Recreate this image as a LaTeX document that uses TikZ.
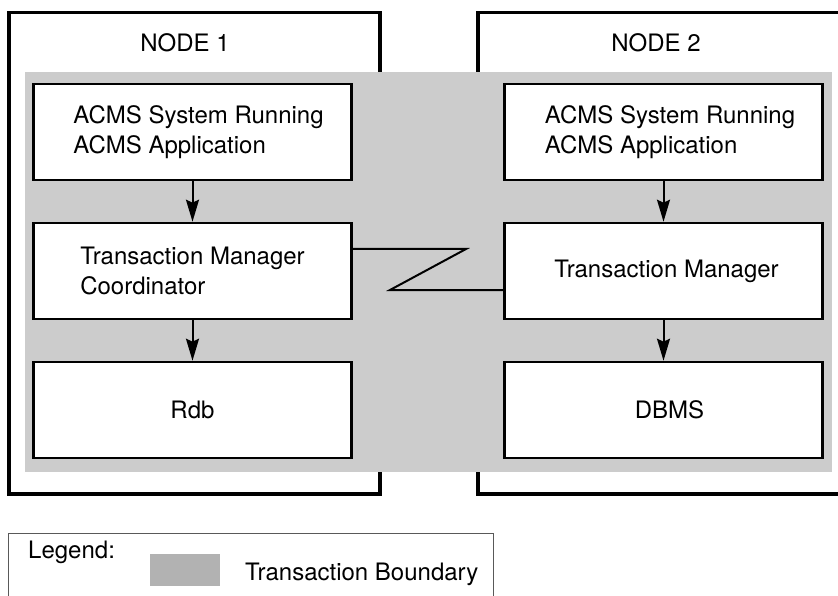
\documentclass[tikz,border=0pt]{standalone}
\usepackage{fontspec}
\setmainfont{TeX Gyre Heros}
\usetikzlibrary{arrows.meta,positioning}

\definecolor{boundgray}{gray}{0.80}
\definecolor{swatchgray}{gray}{0.70}

\tikzset{
    box/.style={draw, line width=2.6pt, fill=white, minimum width=318pt, minimum height=96pt, align=left, inner sep=0pt},
    flow/.style={line width=2pt, -{Stealth[length=22pt,width=13pt,inset=3pt]}},
    lbl/.style={inner sep=0pt}
}

\begin{document}
\begin{tikzpicture}[x=1pt,y=-1pt,font=\fontsize{24}{30}\selectfont]
        \useasboundingbox (0,0) rectangle (838,596);

        % Outer node boxes
        \draw[line width=3.4pt] (9,12.5) rectangle (380,494);
        \draw[line width=3.4pt] (840,12.5) -- (478,12.5) -- (478,494) -- (840,494);
        \node[lbl, anchor=base] (n1) at (185,52) {NODE 1};
        \node[lbl, anchor=base] (n2) at (656,52) {NODE 2};

        % Transaction boundary
        \fill[boundgray] (25,72) rectangle (832,472);

        % Node 1 column
        \node[box] (acms1) at (192.5,132) {\hspace{12pt}ACMS System Running\\\hspace{12pt}ACMS Application};
        \node[box] (tmc) at (192.5,271) {Transaction Manager\\Coordinator};
        \node[box] (rdb) at (192.5,410) {Rdb};

        % Node 2 column
        \node[box] (acms2) at (663.5,132) {\hspace{13pt}ACMS System Running\\\hspace{13pt}ACMS Application};
        \node[box] (tm) at (663.5,271) {\hspace{6pt}Transaction Manager};
        \node[box] (dbms) at (663.5,410) {\hspace{12pt}DBMS};

        % Arrows down each column
        \draw[flow] (acms1) -- (tmc);
        \draw[flow] (tmc) -- (rdb);
        \draw[flow] (acms2) -- (tm);
        \draw[flow] (tm) -- (dbms);

        % Link between the two managers
        \coordinate (za) at (466,249);
        \coordinate (zb) at (390,290);
        \draw[line width=2pt] (tmc.east |- za) -- (za) -- (zb) -- (tm.west |- zb);

        % Legend
        \draw[line width=0.8pt, black!65] (8,600) -- (8,533) -- (493,533) -- (493,600);
        \node[lbl, anchor=base west] (leg) at (28,558) {Legend:};
        \fill[swatchgray] (150,554) rectangle (220,586);
        \node[lbl, anchor=base west] (legtxt) at (245,580) {Transaction Boundary};
\end{tikzpicture}
\end{document}
